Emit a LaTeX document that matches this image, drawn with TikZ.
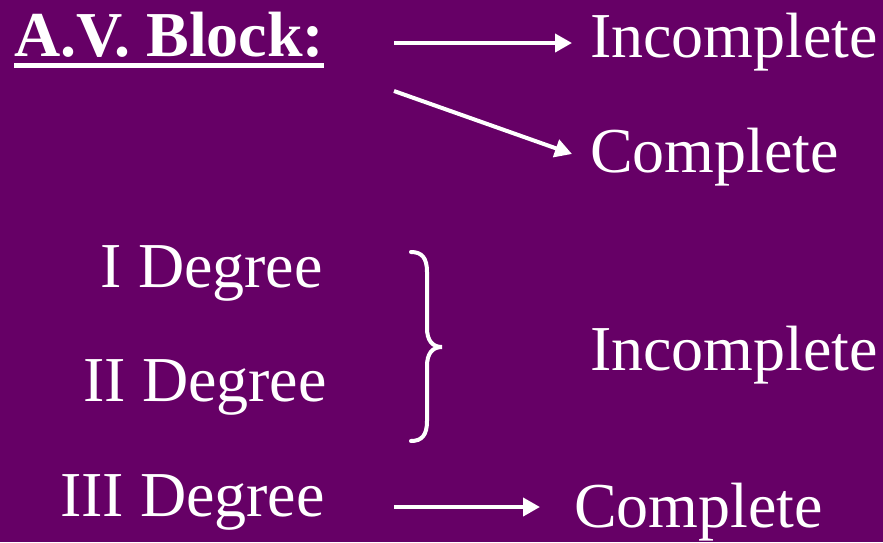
\documentclass[tikz,border=0pt]{standalone}
\usepackage{fontspec}
\setmainfont{Liberation Serif}
\usetikzlibrary{arrows.meta,calc}
\definecolor{bgpurple}{HTML}{660066}
\begin{document}
\begin{tikzpicture}[x=1pt,y=-1pt,
  txt/.style={inner sep=0pt,text=white,font=\fontsize{64}{70}\selectfont},
  arr/.style={draw=white,line width=4pt,-{Triangle[length=17pt,width=18pt]}},
  bracestyle/.style={draw=white,line width=4pt,line cap=round}]
\fill[bgpurple] (0,0) rectangle (883,542);
\useasboundingbox (0,0) rectangle (883,542);
\node[txt,anchor=base west,font=\fontsize{64}{70}\selectfont\bfseries] (title) at (14,56) {A.V. Block:};
\draw[white,line width=5pt] ($(title.base west)+(0,9)$) -- ($(title.base east)+(0,9)$);
\node[txt,anchor=base west] (inc1) at (590,57) {Incomplete};
\node[txt,anchor=base west] (comp1) at (590,172) {Complete};
\node[txt,anchor=base east] (d1) at (323,287) {I Degree};
\node[txt,anchor=base east] (d2) at (327,401) {II Degree};
\node[txt,anchor=base east] (d3) at (325,516) {III Degree};
\node[txt,anchor=base west] (inc2) at (590,370) {Incomplete};
\node[txt,anchor=base west] (comp2) at (574,527) {Complete};
\coordinate (a1s) at (394,43);
\coordinate (a1e) at (572,43);
\coordinate (a2s) at (394,91);
\coordinate (a2e) at (572,154);
\coordinate (a3s) at (394,507);
\coordinate (a3e) at (540,507);
\draw[arr] (a1s) -- (a1e);
\draw[arr] (a2s) -- (a2e);
\draw[arr] (a3s) -- (a3e);
\coordinate (bt) at (411,252);
\coordinate (bm) at (442,347);
\coordinate (bb) at (411,441);
\draw[bracestyle] (bt) .. controls (422,252) and (427,258) .. (427,272)
  -- (427,328) .. controls (427,340) and (432,347) .. (bm)
  .. controls (432,347) and (427,354) .. (427,366)
  -- (427,421) .. controls (427,435) and (422,441) .. (bb);
\end{tikzpicture}
\end{document}
